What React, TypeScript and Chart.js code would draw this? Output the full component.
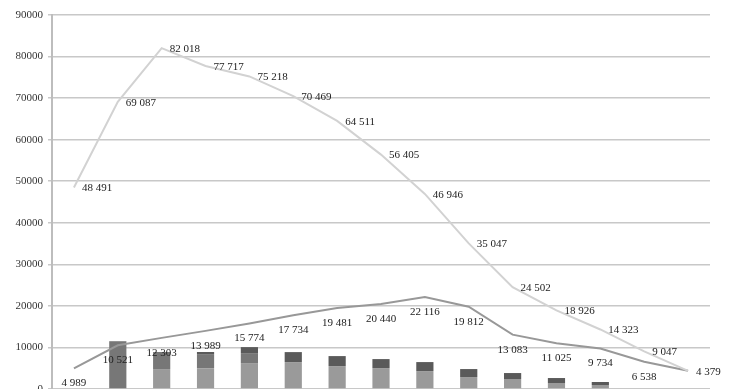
import React, { useEffect, useRef } from "react";
import { Chart, registerables } from "chart.js";

Chart.register(...registerables);

const categories = ["1", "2", "3", "4", "5", "6", "7", "8", "9", "10", "11", "12", "13", "14", "15"];
const lightLine = [48491, 69087, 82018, 77717, 75218, 70469, 64511, 56405, 46946, 35047, 24502, 18926, 14323, 9047, 4379];
const darkLine = [4989, 10521, 12303, 13989, 15774, 17734, 19481, 20440, 22116, 19812, 13083, 11025, 9734, 6538, 4379];
const darkLabels = ["4 989", "10 521", "12 303", "13 989", "15 774", "17 734", "19 481", "20 440", "22 116", "19 812", "13 083", "11 025", "9 734", "6 538", ""];
const lightLabels = ["48 491", "69 087", "82 018", "77 717", "75 218", "70 469", "64 511", "56 405", "46 946", "35 047", "24 502", "18 926", "14 323", "9 047", "4 379"];
const barLow = [0, 0, 4800, 5000, 6240, 6480, 5520, 5040, 4320, 2880, 2400, 1440, 960, 0, 0];
const barMid = [0, 11500, 4100, 3400, 2400, 0, 0, 0, 0, 0, 0, 0, 0, 0, 0];
const barTop = [0, 0, 0, 500, 1440, 2400, 2400, 2160, 2160, 1920, 1440, 1200, 720, 0, 0];
const yTicks = [0, 10000, 20000, 30000, 40000, 50000, 60000, 70000, 80000, 90000];

const labelPlugin = {
  id: "pointLabels",
  afterDatasetsDraw(chart: any) {
    const ctx = chart.ctx;
    ctx.save();
    ctx.font = "11px 'Liberation Serif'";
    ctx.fillStyle = "#222";
    ctx.textBaseline = "middle";
    chart.data.datasets.forEach((ds: any, i: number) => {
      if (!ds.pointLabels) return;
      const meta = chart.getDatasetMeta(i);
      meta.data.forEach((pt: any, j: number) => {
        const t = ds.pointLabels[j];
        if (!t) return;
        if (ds.labelPos === "right") {
          ctx.textAlign = "left";
          ctx.fillText(t, pt.x + 8, pt.y + 1);
        } else {
          ctx.textAlign = "center";
          ctx.fillText(t, pt.x, pt.y + 15);
        }
      });
    });
    ctx.restore();
  },
};

export default function App() {
  const ref = useRef<HTMLCanvasElement>(null);
  useEffect(() => {
    const chart = new Chart(ref.current!, {
      type: "bar",
      data: {
        labels: categories,
        datasets: [
          {
            type: "line",
            data: lightLine,
            borderColor: "#d2d2d2",
            borderWidth: 2,
            pointRadius: 0,
            tension: 0,
            stack: "l1",
            order: 0,
            pointLabels: lightLabels,
            labelPos: "right",
          } as any,
          {
            type: "line",
            data: darkLine,
            borderColor: "#989898",
            borderWidth: 2,
            pointRadius: 0,
            tension: 0,
            stack: "l2",
            order: 1,
            pointLabels: darkLabels,
            labelPos: "below",
          } as any,
          { type: "bar", data: barLow, backgroundColor: "#9a9a9a", stack: "bars", order: 2, barPercentage: 0.49, categoryPercentage: 0.8 },
          { type: "bar", data: barMid, backgroundColor: "#777777", stack: "bars", order: 2, barPercentage: 0.49, categoryPercentage: 0.8 },
          { type: "bar", data: barTop, backgroundColor: "#5a5a5a", stack: "bars", order: 2, barPercentage: 0.49, categoryPercentage: 0.8 },
        ],
      },
      options: {
        animation: false,
        responsive: false,
        maintainAspectRatio: false,
        layout: { padding: { top: 15, right: 30, bottom: 0, left: 0 } },
        plugins: { legend: { display: false }, tooltip: { enabled: false } },
        scales: {
          x: { display: false, stacked: true, offset: true },
          y: {
            stacked: true,
            min: 0,
            max: 90000,
            afterFit(scale: any) {
              scale.width = 52;
              scale.paddingTop = 0;
              scale.paddingBottom = 0;
            },
            afterBuildTicks(scale: any) {
              scale.ticks = yTicks.map((v) => ({ value: v }));
            },
            ticks: {
              padding: 5,
              color: "#333",
              font: { family: "'Liberation Serif'", size: 11 },
              callback: (v: any) => String(v),
            },
            grid: { color: "#c8c8c8", lineWidth: 1.5, tickLength: 4, drawTicks: true },
            border: { display: true, color: "#bdbdbd", width: 2 },
          },
        },
      },
      plugins: [labelPlugin],
    } as any);
    return () => chart.destroy();
  }, []);
  return (
    <div style={{ position: "absolute", left: 0, top: 0, width: 740, height: 389, background: "#fff" }}>
      <canvas ref={ref} width={740} height={389} style={{ display: "block" }} />
    </div>
  );
}
